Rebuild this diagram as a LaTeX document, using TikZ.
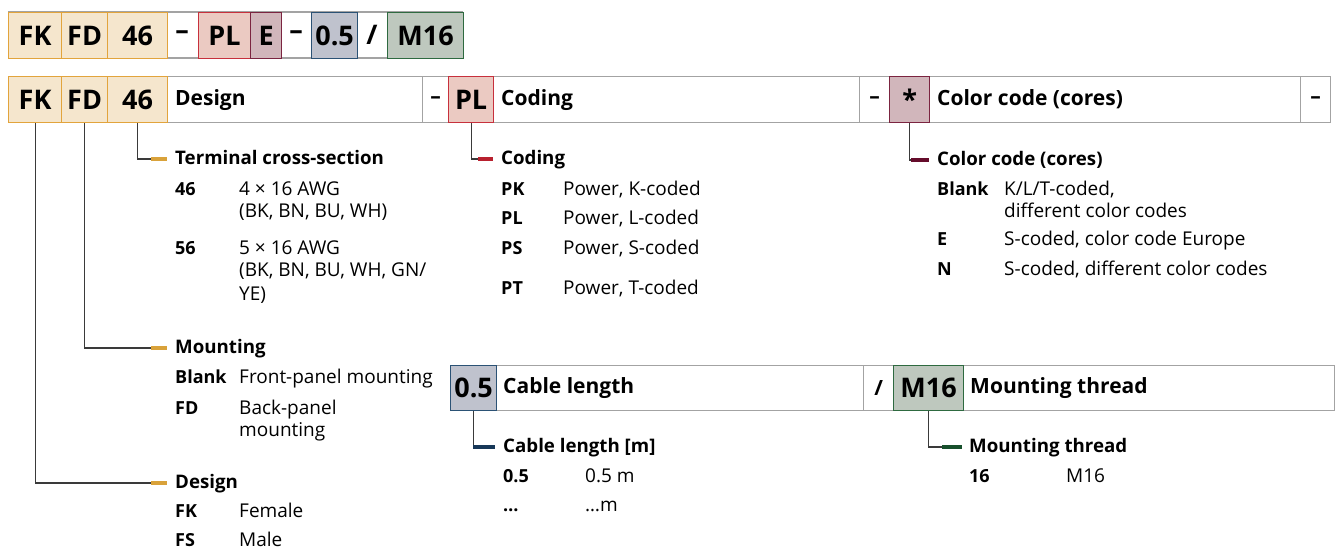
\documentclass[tikz,border=0pt]{standalone}
\usepackage{fontspec}
\setmainfont{Open Sans}
\usetikzlibrary{positioning}
\definecolor{ochreline}{HTML}{E2A43C}
\definecolor{ochrefill}{HTML}{F5E6CD}
\definecolor{ochremark}{HTML}{D9A23A}
\definecolor{redline}{HTML}{C7303C}
\definecolor{redfill}{HTML}{EBCAC2}
\definecolor{redmark}{HTML}{B8202E}
\definecolor{wineline}{HTML}{7B2440}
\definecolor{winefill}{HTML}{D1B6BB}
\definecolor{winemark}{HTML}{650C2B}
\definecolor{navyline}{HTML}{2B5275}
\definecolor{navyfill}{HTML}{BFC2CD}
\definecolor{navymark}{HTML}{173858}
\definecolor{greenline}{HTML}{2E6A40}
\definecolor{greenfill}{HTML}{BEC8BE}
\definecolor{greenmark}{HTML}{17502C}
\definecolor{cellgrey}{HTML}{A3A3A3}
\definecolor{wiregrey}{HTML}{3A3A3A}
\newcommand{\codefont}{\fontsize{27}{30}\selectfont\bfseries}
\newcommand{\headfont}{\fontsize{21}{25}\selectfont\bfseries}
\newcommand{\titlefont}{\fontsize{18.7}{23}\selectfont\bfseries}
\newcommand{\keyfont}{\fontsize{18}{22}\selectfont\bfseries}
\newcommand{\bodyfont}{\fontsize{19}{22}\selectfont}
\tikzset{cell/.style = {draw=cellgrey, line width=1.2pt, fill=white, rectangle, anchor=north west, inner sep=0pt, minimum height=46pt, font=\headfont},
         codebox/.style = {cell, font=\codefont},
         ochrebox/.style = {codebox, draw=ochreline, fill=ochrefill},
         redbox/.style = {codebox, draw=redline, fill=redfill},
         winebox/.style = {codebox, draw=wineline, fill=winefill},
         navybox/.style = {codebox, draw=navyline, fill=navyfill},
         greenbox/.style = {codebox, draw=greenline, fill=greenfill},
         headtext/.style = {anchor=west, inner sep=0pt, font=\headfont},
         title/.style = {anchor=west, inner sep=0pt, font=\titlefont, text height=14pt, text depth=4pt},
         key/.style = {anchor=west, inner sep=0pt, font=\keyfont, text height=12pt, text depth=3pt},
         val/.style = {anchor=west, inner sep=0pt, font=\bodyfont, text height=12pt, text depth=3pt},
         wire/.style = {draw=wiregrey, line width=1.2pt},
         keymark/.style = {line width=4pt}}

\begin{document}
\begin{tikzpicture}[x=1pt,y=-1pt]
    \useasboundingbox (0,0) rectangle (1341,551);

    % order code
    \draw[cellgrey, line width=1.2pt] (8,12) -- (463,12) (8,58) -- (463,58);
    \node[ochrebox, minimum width=53pt] (a1) at (8,12) {FK};
    \node[ochrebox, minimum width=46pt] (b1) at (61,12) {FD};
    \node[ochrebox, minimum width=60pt] (c1) at (107,12) {46};
    \node[font=\codefont] (m1) at (182,35) {–};
    \node[redbox, minimum width=52pt] (d1) at (198,12) {PL};
    \node[winebox, minimum width=31pt] (e1) at (250,12) {E};
    \node[font=\codefont] (m2) at (296,35) {–};
    \node[navybox, minimum width=46pt] (f1) at (311,12) {0.5};
    \node[font=\codefont] (s1) at (372,35) {/};
    \node[greenbox, minimum width=76pt] (g1) at (387,12) {M16};

    % first key line
    \node[cell, minimum width=255pt] (hdesign) at (167,76) {};
    \node[cell, minimum width=26pt] (sep1) at (422,76) {–};
    \node[cell, minimum width=366pt] (hcoding) at (493,76) {};
    \node[cell, minimum width=30pt] (sep2) at (859,76) {–};
    \node[cell, minimum width=371pt] (hcolor) at (929,76) {};
    \node[cell, minimum width=30pt] (sep3) at (1300,76) {–};
    \node[ochrebox, minimum width=53pt] (fk) at (8,76) {FK};
    \node[ochrebox, minimum width=46pt] (fd) at (61,76) {FD};
    \node[ochrebox, minimum width=60pt] (cs) at (107,76) {46};
    \node[redbox, minimum width=45pt] (pl) at (448,76) {PL};
    \node[winebox, minimum width=40pt] (cc) at (889,76) {*};
    \node[headtext, right=8pt of hdesign.west] {Design};
    \node[headtext, right=8pt of hcoding.west] {Coding};
    \node[headtext, right=8pt of hcolor.west] {Color code (cores)};

    % second key line
    \node[cell, minimum width=367pt, minimum height=45pt] (hlen) at (496,365) {};
    \node[cell, minimum width=30pt, minimum height=45pt] (sep4) at (863,365) {/};
    \node[cell, minimum width=371pt, minimum height=45pt] (hthr) at (963,365) {};
    \node[navybox, minimum width=46pt, minimum height=45pt] (len) at (450,365) {0.5};
    \node[greenbox, minimum width=70pt, minimum height=45pt] (thr) at (893,365) {M16};
    \node[headtext, right=7pt of hlen.west] {Cable length};
    \node[headtext, right=7pt of hthr.west] {Mounting thread};

    % terminal cross-section
    \node[title] (tcs) at (175,159) {Terminal cross-section};
    \draw[wire] (cs.south) |- ([xshift=-24pt]tcs.west);
    \draw[keymark, ochremark] ([xshift=-24pt]tcs.west) -- ([xshift=-8pt]tcs.west);
    \node[key] (k46) at (175,191) {46};
    \node[val] (v46a) at (239,191) {4 × 16 AWG};
    \node[val] (v46b) at (239,213) {(BK, BN, BU, WH)};
    \node[key] (k56) at (175,250) {56};
    \node[val] (v56a) at (239,250) {5 × 16 AWG};
    \node[val] (v56b) at (239,272) {(BK, BN, BU, WH, GN/};
    \node[val] (v56c) at (239,296) {YE)};

    % mounting
    \node[title] (tmnt) at (175,348) {Mounting};
    \draw[wire] (fd.south) |- ([xshift=-24pt]tmnt.west);
    \draw[keymark, ochremark] ([xshift=-24pt]tmnt.west) -- ([xshift=-8pt]tmnt.west);
    \node[key] (kblank) at (175,379) {Blank};
    \node[val] (vfront) at (239,379) {Front-panel mounting};
    \node[key] (kfd) at (175,410) {FD};
    \node[val] (vbacka) at (239,410) {Back-panel};
    \node[val] (vbackb) at (239,432) {mounting};

    % design
    \node[title] (tdes) at (175,483) {Design};
    \draw[wire] (fk.south) |- ([xshift=-24pt]tdes.west);
    \draw[keymark, ochremark] ([xshift=-24pt]tdes.west) -- ([xshift=-8pt]tdes.west);
    \node[key] (kfk) at (175,513) {FK};
    \node[val] (vfk) at (239,513) {Female};
    \node[key] (kfs) at (175,542) {FS};
    \node[val] (vfs) at (239,542) {Male};

    % coding
    \node[title] (tcod) at (501,159) {Coding};
    \draw[wire] (pl.south) |- ([xshift=-23pt]tcod.west);
    \draw[keymark, redmark] ([xshift=-23pt]tcod.west) -- ([xshift=-8pt]tcod.west);
    \node[key] (kpk) at (501,191) {PK};
    \node[val] (vpk) at (563,191) {Power, K-coded};
    \node[key] (kpl) at (501,220) {PL};
    \node[val] (vpl) at (563,220) {Power, L-coded};
    \node[key] (kps) at (501,250) {PS};
    \node[val] (vps) at (563,250) {Power, S-coded};
    \node[key] (kpt) at (501,290) {PT};
    \node[val] (vpt) at (563,290) {Power, T-coded};

    % color code
    \node[title] (tcol) at (937,160) {Color code (cores)};
    \draw[wire] (cc.south) |- ([xshift=-26pt]tcol.west);
    \draw[keymark, winemark] ([xshift=-26pt]tcol.west) -- ([xshift=-8pt]tcol.west);
    \node[key] (kcb) at (937,191) {Blank};
    \node[val] (vcba) at (1004,191) {K/L/T-coded,};
    \node[val] (vcbb) at (1004,213) {different color codes};
    \node[key] (kce) at (937,241) {E};
    \node[val] (vce) at (1004,241) {S-coded, color code Europe};
    \node[key] (kcn) at (937,271) {N};
    \node[val] (vcn) at (1004,271) {S-coded, different color codes};

    % cable length
    \node[title] (tlen) at (503,447) {Cable length [m]};
    \draw[wire] (len.south) |- ([xshift=-30pt]tlen.west);
    \draw[keymark, navymark] ([xshift=-30pt]tlen.west) -- ([xshift=-8pt]tlen.west);
    \node[key] (k05) at (503,478) {0.5};
    \node[val] (v05) at (585,478) {0.5 m};
    \node[key] (kdots) at (503,507) {…};
    \node[val] (vdots) at (585,507) {…m};

    % mounting thread
    \node[title] (tthr) at (969,447) {Mounting thread};
    \draw[wire] (thr.south) |- ([xshift=-27pt]tthr.west);
    \draw[keymark, greenmark] ([xshift=-27pt]tthr.west) -- ([xshift=-7pt]tthr.west);
    \node[key] (k16) at (969,478) {16};
    \node[val] (v16) at (1066,478) {M16};
\end{tikzpicture}
\end{document}
